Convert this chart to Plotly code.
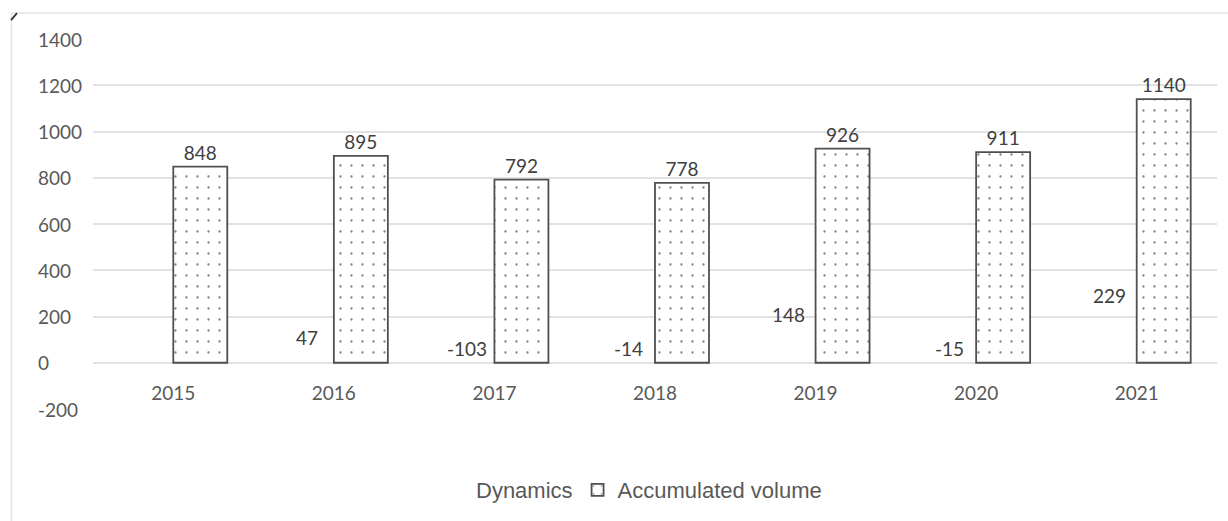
import plotly.graph_objects as go

years = ["2015", "2016", "2017", "2018", "2019", "2020", "2021"]
dynamics = [None, 47, -103, -14, 148, -15, 229]
accumulated = [848, 895, 792, 778, 926, 911, 1140]
y_ticks = [-200, 0, 200, 400, 600, 800, 1000, 1200, 1400]
y_tick_labels = ["-200", "0", "200", "400", "600", "800", "1000", "1200", "1400"]

W, H = 1228, 521
ML, MR, MT, MB = 93, 11, 39, 111
PW, PH = W - ML - MR, H - MT - MB

def px_x(x):
    return (x - ML) / PW

def px_y(y):
    return (H - MB - y) / PH

TXT = "#595959"
LBL = "#404040"
FONT = "Lato"

fig = go.Figure()

fig.add_trace(go.Bar(
    name="Dynamics", x=years, y=dynamics,
    marker=dict(color="rgba(0,0,0,0)", line=dict(width=0)),
))

fig.add_trace(go.Bar(
    name="Accumulated volume", x=years, y=accumulated,
    marker=dict(
        color="white",
        line=dict(color="#505050", width=1.8),
        pattern=dict(shape=".", fgcolor="#000000", bgcolor="white", size=11, solidity=0.035),
    ),
    text=[str(v) for v in accumulated], textposition="outside",
    textfont=dict(family=FONT, size=19, color=LBL),
    constraintext="none", cliponaxis=False,
))

annotations = []
for i, v in enumerate(dynamics):
    if v is None:
        continue
    annotations.append(dict(
        x=i, y=max(v, 0), xref="x", yref="y", text=str(v), showarrow=False,
        xanchor="center", yanchor="bottom", xshift=-27, yshift=1,
        font=dict(family=FONT, size=19, color=LBL),
    ))

for val, lab in zip(y_ticks, y_tick_labels):
    annotations.append(dict(
        x=px_x(36), y=val, xref="paper", yref="y", text=lab, showarrow=False,
        xanchor="left", yanchor="middle",
        font=dict(family=FONT, size=19, color=TXT),
    ))

yr_min, yr_max = y_ticks[0], y_ticks[-1]

fig.update_layout(
    width=W, height=H,
    margin=dict(l=ML, r=MR, t=MT, b=MB),
    paper_bgcolor="white", plot_bgcolor="white",
    barmode="group", bargap=0.3275, bargroupgap=0,
    showlegend=True,
    legend=dict(
        orientation="h", x=px_x(436), xanchor="left", y=px_y(490), yanchor="middle",
        font=dict(family="Liberation Sans", size=22, color=TXT),
        bgcolor="rgba(0,0,0,0)", itemclick=False,
    ),
    annotations=annotations,
    shapes=[
        dict(type="line", xref="paper", yref="paper",
             x0=px_x(11.5), x1=px_x(W + 5), y0=px_y(13), y1=px_y(13),
             line=dict(color="#e3e3e3", width=1.5)),
        dict(type="line", xref="paper", yref="paper",
             x0=px_x(11.5), x1=px_x(11.5), y0=px_y(13), y1=px_y(H + 5),
             line=dict(color="#e3e3e3", width=1.5)),
        dict(type="line", xref="paper", yref="paper",
             x0=px_x(11), x1=px_x(17), y0=px_y(20), y1=px_y(13),
             line=dict(color="#333333", width=1.8)),
    ],
    xaxis=dict(
        type="category", categoryorder="array", categoryarray=years,
        range=[-0.5, len(years) - 0.5], autorange=False,
        anchor="free", position=(0 - yr_min) / (yr_max - yr_min),
        showline=False, ticks="", showgrid=False, zeroline=False,
        tickfont=dict(family=FONT, size=19, color=TXT),
        ticklabelstandoff=17,
    ),
    yaxis=dict(
        range=[yr_min, yr_max], autorange=False, tickvals=y_ticks, showticklabels=False,
        showgrid=True, gridcolor="#e2e2e2", gridwidth=2,
        zeroline=False, showline=False, ticks="",
    ),
)

fig.write_html("out.html")
